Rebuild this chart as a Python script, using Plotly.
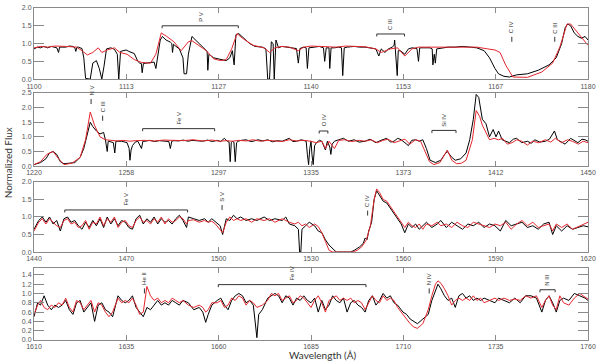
import plotly.graph_objects as go

# observed (black) and model (red) spectra, (wavelength, normalized flux)
p1_obs = [(1100.0,0.85),(1100.5,0.90),(1100.94,0.88),(1101.4,0.92),(1101.98,0.88),(1102.5,0.92),(1102.9,0.90),(1103.3,0.88),
    (1103.54,0.75),(1103.7,0.90),(1104.06,0.90),(1104.58,0.90),(1105.1,0.93),(1105.62,0.92),(1105.9,0.88),(1106.04,0.78),
    (1106.2,0.90),(1106.41,0.90),(1106.93,0.86),(1107.19,0.60),(1107.45,0.02),(1108.12,0.0),(1108.49,0.45),(1109.01,0.52),
    (1109.43,0.30),(1109.79,0.0),(1110.10,0.35),(1110.47,0.85),(1111.09,0.88),(1111.61,0.84),(1112.03,0.70),(1112.24,0.0),
    (1112.5,0.78),(1112.92,0.80),(1113.3,0.82),(1113.70,0.78),(1114.1,0.76),(1114.48,0.72),(1115.0,0.50),(1115.26,0.45),
    (1115.5,0.44),(1115.62,0.18),(1115.8,0.44),(1116.3,0.46),(1116.82,0.47),(1117.34,0.48),(1117.60,0.30),(1117.86,0.60),
    (1118.23,1.10),(1118.54,1.20),(1119.06,1.10),(1119.69,1.04),(1119.9,1.0),(1120.0,0.75),(1120.15,0.98),(1120.31,0.95),
    (1120.99,0.85),(1121.51,0.60),(1121.67,0.15),(1122.03,0.15),(1122.29,0.70),(1122.81,1.20),(1123.33,1.10),(1124.11,0.95),
    (1124.79,0.80),(1125.0,0.78),(1125.10,0.25),(1125.25,0.70),(1125.94,0.60),(1126.98,0.55),(1127.76,0.52),(1128.28,0.60),
    (1128.64,0.80),(1128.90,0.40),(1129.16,1.25),(1129.58,1.28),(1130.36,1.15),(1131.14,1.00),(1131.92,0.92),(1132.97,0.90),
    (1133.49,0.85),(1133.75,0.0),(1134.01,0.0),(1134.27,1.05),(1134.53,1.00),(1134.69,0.0),(1134.94,1.10),(1135.31,0.88),
    (1135.8,0.92),(1136.35,0.90),(1136.9,0.88),(1137.39,0.88),(1137.9,0.86),(1138.17,0.45),(1138.4,0.86),(1138.9,0.90),
    (1139.3,0.88),(1139.48,0.30),(1139.7,0.88),(1140.52,0.90),(1141.2,0.92),(1141.8,0.88),(1141.98,0.50),(1142.2,0.88),
    (1142.6,0.88),(1142.71,0.30),(1142.9,0.88),(1143.38,0.88),(1144.0,0.90),(1144.4,0.88),(1144.58,0.10),(1144.8,0.88),
    (1145.21,0.90),(1146.25,0.92),(1147.0,0.90),(1147.81,0.90),(1148.5,0.88),(1149.37,0.85),(1149.79,0.65),(1150.15,0.85),
    (1150.67,0.75),(1151.19,0.85),(1151.72,0.90),(1152.0,0.95),(1152.08,1.10),(1152.3,0.50),(1152.45,0.10),(1152.6,0.80),
    (1152.91,0.80),(1153.54,0.70),(1154.06,0.85),(1154.58,0.88),(1155.3,0.86),(1155.52,0.50),(1155.7,0.88),(1156.5,0.88),
    (1157.18,0.88),(1157.5,0.85),(1157.60,0.40),(1157.8,0.70),(1157.96,0.45),(1158.15,0.85),(1159.0,0.88),(1159.79,0.90),
    (1160.8,0.90),(1161.87,0.92),(1163.0,0.90),(1163.95,0.88),(1165.0,0.80),(1165.78,0.60),(1166.56,0.30),(1167.08,0.15),
    (1167.86,0.08),(1168.64,0.06),(1169.68,0.12),(1171.25,0.15),(1172.81,0.25),(1174.37,0.40),(1175.41,0.60),(1176.19,1.00),
    (1176.71,1.45),(1177.08,1.55),(1177.49,1.50),(1178.01,1.30),(1178.54,1.20),(1179.06,1.15),(1179.58,1.20),(1180.0,1.10)]
p1_mod = [(1100.0,0.88),(1101.0,0.92),(1101.98,0.90),(1103.0,0.93),(1104.58,0.92),(1106.15,0.90),(1106.93,0.80),(1107.71,0.68),
    (1108.49,0.75),(1109.27,0.88),(1109.79,0.75),(1110.57,0.82),(1111.61,0.88),(1112.40,0.75),(1113.44,0.70),(1114.48,0.55),
    (1115.52,0.47),(1116.82,0.45),(1117.60,0.70),(1118.38,1.30),(1119.17,1.20),(1120.21,1.05),(1121.25,0.80),(1122.29,1.05),
    (1122.81,1.08),(1123.85,0.95),(1124.89,0.80),(1125.94,0.57),(1126.98,0.52),(1127.76,0.55),(1128.54,0.85),(1129.32,1.28),
    (1130.10,1.15),(1131.66,0.95),(1133.23,0.88),(1134.01,0.75),(1134.79,0.88),(1135.8,0.92),(1136.87,0.90),(1138.17,0.80),
    (1138.96,0.90),(1140.0,0.93),(1141.04,0.92),(1142.3,0.90),(1143.64,0.90),(1145.0,0.93),(1146.25,0.93),(1147.8,0.91),
    (1149.37,0.85),(1150.15,0.75),(1151.45,0.85),(1152.5,0.88),(1153.54,0.65),(1154.58,0.85),(1155.5,0.90),(1156.66,0.90),
    (1158.0,0.92),(1159.5,0.90),(1161.87,0.92),(1163.95,0.90),(1165.52,0.85),(1166.56,0.82),(1167.3,0.75),(1168.1,0.40),
    (1169.15,0.06),(1171.25,0.05),(1173.33,0.20),(1174.89,0.45),(1175.93,0.90),(1176.97,1.55),(1177.49,1.55),(1178.54,1.30),
    (1180.0,0.95)]

p2_obs = [(1220.0,0.05),(1222.70,0.12),(1224.94,0.25),(1226.44,0.45),(1227.94,0.50),(1229.43,0.40),(1230.93,0.15),(1232.43,0.08),
    (1234.67,0.10),(1236.92,0.12),(1239.17,0.30),(1240.66,0.60),(1242.16,1.10),(1243.36,1.50),(1244.41,1.35),(1245.91,1.20),
    (1247.40,1.10),(1248.90,1.15),(1249.65,0.90),(1250.40,0.50),(1250.8,0.85),(1251.15,0.85),(1252.94,0.80),(1253.54,0.45),
    (1254.0,0.85),(1254.44,0.85),(1256.39,0.85),(1258.63,0.80),(1259.5,0.60),(1259.83,0.20),(1260.3,0.55),(1260.88,0.70),
    (1262.0,0.82),(1263.13,0.85),(1264.62,0.60),(1265.2,0.85),(1266.12,0.85),(1268.0,0.88),(1270.0,0.84),(1272.11,0.87),
    (1274.0,0.86),(1276.0,0.84),(1276.60,0.60),(1277.2,0.85),(1278.10,0.87),(1280.0,0.86),(1282.0,0.89),(1284.0,0.85),
    (1285.59,0.88),(1288.0,0.86),(1290.08,0.85),(1292.0,0.89),(1294.0,0.84),(1296.07,0.88),(1297.5,0.84),(1299.06,0.95),
    (1300.2,0.85),(1301.0,0.82),(1301.46,0.15),(1301.9,0.80),(1302.36,0.85),(1303.0,0.82),(1303.55,0.15),(1304.1,0.80),
    (1304.75,0.85),(1306.0,0.88),(1308.05,0.90),(1310.0,0.84),(1311.04,0.85),(1313.0,0.90),(1315.0,0.86),(1317.03,0.90),
    (1319.0,0.83),(1321.0,0.87),(1323.02,0.85),(1324.5,0.90),(1326.02,0.95),(1327.5,0.84),(1329.01,0.85),(1331.0,0.90),
    (1333.0,0.85),(1333.50,0.40),(1334.0,0.05),(1334.5,0.60),(1335.0,0.85),(1335.4,0.40),(1335.9,0.05),(1336.5,0.70),
    (1337.25,0.80),(1338.5,0.88),(1339.49,0.85),(1340.99,0.55),(1341.8,0.85),(1342.8,0.65),(1343.24,0.40),(1343.8,0.75),
    (1344.73,0.85),(1346.5,0.90),(1348.48,0.95),(1350.5,0.85),(1352.97,0.90),(1355.0,0.82),(1357.46,0.85),(1359.5,0.92),
    (1361.95,0.80),(1364.0,0.88),(1366.45,0.95),(1368.0,0.82),(1369.44,0.85),(1371.0,0.95),(1372.43,0.90),(1374.0,0.80),
    (1375.43,0.70),(1376.8,0.88),(1378.42,0.90),(1380.0,0.85),(1381.42,0.90),(1382.92,0.60),(1384.44,0.20),(1386.66,0.12),
    (1388.90,0.20),(1390.5,0.40),(1391.60,0.50),(1393.45,0.30),(1394.90,0.20),(1397.14,0.25),(1399.39,0.45),(1400.89,0.90),
    (1402.38,1.60),(1403.58,2.45),(1404.63,2.35),(1406.13,1.60),(1407.63,1.45),(1409.12,1.00),(1410.62,1.25),(1411.8,1.00),
    (1412.87,1.20),(1414.36,0.90),(1416.0,0.85),(1417.36,0.80),(1419.0,0.92),(1420.35,0.95),(1422.5,0.80),(1424.84,0.85),
    (1426.5,0.78),(1427.84,0.90),(1430.0,0.82),(1432.33,0.85),(1434.0,0.92),(1436.07,1.20),(1437.3,0.90),(1438.32,0.85),
    (1440.5,0.75),(1442.81,0.95),(1444.5,0.85),(1445.80,0.80),(1447.5,0.92),(1448.80,0.90),(1450.0,0.85)]
p2_mod = [(1220.0,0.05),(1222.70,0.15),(1225.3,0.40),(1227.94,0.50),(1230.2,0.25),(1232.43,0.05),(1235.8,0.10),(1239.17,0.30),
    (1241.4,0.90),(1243.36,1.85),(1245.1,1.40),(1247.40,1.00),(1249.65,0.90),(1252.0,0.88),(1254.44,0.86),(1257.0,0.88),
    (1259.83,0.85),(1262.0,0.87),(1266.12,0.88),(1270.0,0.86),(1274.0,0.89),(1278.10,0.88),(1282.0,0.87),(1286.0,0.90),
    (1290.0,0.86),(1294.0,0.89),(1297.0,0.85),(1300.0,0.87),(1302.36,0.85),(1305.0,0.88),(1308.05,0.86),(1311.04,0.90),
    (1314.0,0.85),(1317.03,0.88),(1320.0,0.86),(1323.02,0.84),(1326.0,0.90),(1329.01,0.86),(1332.0,0.88),(1335.0,0.85),
    (1337.0,0.80),(1339.5,0.85),(1340.99,0.60),(1342.5,0.85),(1344.73,0.60),(1346.5,0.88),(1349.0,0.90),(1352.0,0.84),
    (1355.0,0.88),(1357.5,0.85),(1360.0,0.90),(1362.5,0.80),(1365.0,0.88),(1367.0,0.92),(1369.5,0.80),(1372.0,0.88),
    (1374.0,0.92),(1376.0,0.75),(1378.42,0.90),(1380.5,0.85),(1382.5,0.50),(1384.2,0.15),(1386.0,0.05),(1388.5,0.12),
    (1391.60,0.55),(1393.45,0.20),(1395.5,0.08),(1397.5,0.10),(1399.39,0.20),(1402.0,0.90),(1403.58,1.90),(1405.0,1.70),
    (1406.13,1.40),(1408.0,1.10),(1409.12,0.90),(1411.0,0.95),(1412.87,0.90),(1414.5,0.95),(1416.5,0.75),(1418.5,0.80),
    (1420.35,0.90),(1422.5,0.85),(1424.84,0.72),(1427.0,0.85),(1429.5,0.80),(1432.33,0.90),(1434.5,0.82),(1436.5,0.95),
    (1439.0,0.80),(1441.5,0.90),(1443.5,0.85),(1446.0,0.75),(1448.0,0.85),(1450.0,0.80)]

p3_obs = [(1440.0,0.65),(1441.52,0.90),(1442.70,1.00),(1443.87,0.85),(1445.04,1.00),(1446.21,0.80),(1447.38,0.90),(1448.55,0.60),
    (1449.73,0.95),(1450.90,1.00),(1452.07,0.85),(1453.24,0.90),(1454.41,0.75),(1455.59,0.65),(1456.76,0.85),(1457.93,0.70),
    (1459.10,0.90),(1460.27,0.75),(1461.45,0.95),(1462.62,0.70),(1463.79,1.00),(1464.96,0.80),(1466.13,0.95),(1467.31,0.75),
    (1468.48,0.90),(1469.65,0.85),(1470.82,0.70),(1471.99,0.65),(1473.17,0.95),(1474.34,1.05),(1475.51,0.80),(1476.68,0.95),
    (1477.85,0.85),(1479.02,1.00),(1480.20,0.80),(1481.37,0.95),(1482.54,0.85),(1483.71,0.90),(1484.88,0.80),(1486.06,0.95),
    (1487.23,1.05),(1488.40,0.90),(1489.57,0.70),(1490.16,1.00),(1491.91,0.95),(1493.67,0.90),(1495.43,0.95),(1496.60,0.85),
    (1497.77,0.95),(1498.95,0.85),(1500.47,0.75),(1501.29,0.50),(1502.46,0.95),(1503.63,0.90),(1504.81,1.05),(1505.98,0.95),
    (1507.15,1.00),(1508.91,0.90),(1510.67,0.95),(1512.42,0.90),(1514.77,1.00),(1516.53,0.90),(1518.28,0.95),(1520.63,0.90),
    (1521.80,1.00),(1522.97,0.80),(1524.73,0.75),(1525.90,0.65),(1526.3,0.0),(1526.7,0.0),(1527.07,0.65),(1528.24,0.75),
    (1529.42,0.85),(1531.17,0.75),(1532.35,0.60),(1533.52,0.55),(1534.69,0.35),(1535.86,0.20),(1537.03,0.10),(1538.21,0.0),
    (1540.55,0.0),(1542.89,0.0),(1544.07,0.05),(1545.82,0.15),(1547.0,0.25),(1547.58,0.40),(1548.2,0.35),(1548.75,0.60),
    (1549.69,0.85),(1550.51,1.50),(1551.33,1.75),(1552.27,1.60),(1553.44,1.45),(1554.61,1.40),(1555.79,1.25),(1556.96,1.10),
    (1558.13,0.95),(1559.30,0.80),(1560.47,0.55),(1561.64,0.80),(1562.81,0.70),(1563.99,0.80),(1565.16,0.65),(1566.33,0.75),
    (1567.50,0.85),(1569.26,0.70),(1571.02,0.80),(1572.19,0.90),(1573.95,0.70),(1575.71,0.85),(1577.46,0.75),(1579.22,0.65),
    (1580.98,0.80),(1582.73,0.75),(1584.49,0.85),(1586.25,0.70),(1588.01,0.80),(1589.77,0.75),(1591.52,0.60),(1593.28,0.90),
    (1595.04,0.75),(1596.80,0.80),(1598.55,0.85),(1600.31,0.70),(1602.07,0.75),(1603.83,0.65),(1605.59,0.80),(1607.34,0.85),
    (1608.52,0.50),(1609.69,0.75),(1611.45,0.60),(1613.21,0.75),(1614.96,0.65),(1616.72,0.70),(1618.48,0.75),(1620.0,0.72)]
p3_mod = [(1440.0,0.60),(1441.52,0.85),(1442.70,0.95),(1443.87,0.80),(1445.04,0.95),(1446.21,0.85),(1447.38,0.75),(1448.55,0.70),
    (1449.73,0.90),(1450.90,0.95),(1452.07,0.80),(1453.24,0.85),(1454.41,0.70),(1455.59,0.75),(1456.76,0.90),(1457.93,0.65),
    (1459.10,0.85),(1460.27,0.80),(1461.45,1.00),(1462.62,0.75),(1463.79,0.95),(1464.96,0.85),(1466.13,1.00),(1467.31,0.70),
    (1468.48,0.85),(1469.65,0.90),(1470.82,0.75),(1471.99,0.70),(1473.17,0.90),(1474.34,1.00),(1475.51,0.85),(1476.68,0.90),
    (1477.85,0.80),(1479.02,0.95),(1480.20,0.85),(1481.37,1.00),(1482.54,0.80),(1483.71,0.95),(1484.88,0.85),(1486.06,0.90),
    (1487.23,1.00),(1488.40,0.95),(1489.57,0.80),(1490.16,0.90),(1491.91,0.92),(1493.67,0.85),(1495.43,0.90),(1496.60,0.85),
    (1497.77,0.88),(1498.95,0.80),(1500.47,0.65),(1501.29,0.55),(1502.46,0.85),(1503.63,1.00),(1504.81,0.90),(1505.98,0.95),
    (1507.15,0.90),(1508.91,0.95),(1510.67,0.85),(1512.42,0.95),(1514.77,0.90),(1516.53,0.95),(1518.28,0.85),(1520.63,0.95),
    (1521.80,0.90),(1522.97,0.85),(1524.73,0.80),(1525.90,0.85),(1527.07,0.75),(1528.24,0.80),(1529.42,0.70),(1531.17,0.80),
    (1532.35,0.73),(1533.52,0.55),(1534.69,0.30),(1535.86,0.05),(1537.03,0.0),(1540.55,0.0),(1543.5,0.0),(1545.0,0.05),
    (1546.5,0.15),(1548.0,0.35),(1549.3,0.75),(1550.51,1.50),(1551.33,1.80),(1552.27,1.70),(1553.44,1.50),(1554.61,1.45),
    (1555.79,1.30),(1556.96,1.15),(1558.13,1.00),(1559.30,0.85),(1560.47,0.70),(1561.64,0.85),(1562.81,0.75),(1563.99,0.70),
    (1565.16,0.80),(1566.33,0.65),(1567.50,0.80),(1569.26,0.75),(1571.02,0.85),(1572.19,0.75),(1573.95,0.80),(1575.71,0.70),
    (1577.46,0.85),(1579.22,0.75),(1580.98,0.70),(1582.73,0.85),(1584.49,0.80),(1586.25,0.75),(1588.01,0.70),(1589.77,0.80),
    (1591.52,0.75),(1593.28,0.85),(1595.04,0.65),(1596.80,0.80),(1598.55,0.90),(1600.31,0.75),(1602.07,0.85),(1603.83,0.70),
    (1605.59,0.75),(1607.34,0.80),(1608.52,0.60),(1609.69,0.80),(1611.45,0.70),(1613.21,0.80),(1614.96,0.65),(1616.72,0.72),
    (1618.48,0.80),(1620.0,0.85)]

p4_obs = [(1610.0,0.50),(1610.98,0.80),(1611.76,0.75),(1612.73,0.95),(1613.71,0.75),(1614.69,0.65),(1615.66,0.75),(1616.64,0.70),
    (1617.62,0.75),(1618.59,0.85),(1619.57,0.65),(1620.55,0.55),(1621.52,0.80),(1622.50,0.85),(1623.48,0.60),(1624.45,0.70),
    (1625.43,0.80),(1626.41,0.40),(1627.38,0.75),(1628.36,0.80),(1629.34,0.65),(1630.31,0.60),(1631.29,0.50),(1632.75,0.95),
    (1633.73,0.85),(1634.71,0.80),(1635.68,0.85),(1636.66,0.95),(1637.64,0.70),(1638.61,0.60),(1639.59,0.50),(1640.57,0.70),
    (1641.54,0.65),(1642.52,0.75),(1643.50,0.85),(1644.47,0.75),(1645.45,0.80),(1646.43,0.75),(1647.40,0.85),(1648.38,0.80),
    (1649.36,0.75),(1650.33,0.85),(1651.80,0.80),(1653.26,0.65),(1654.73,0.70),(1655.70,0.60),(1656.49,0.38),(1657.17,0.55),
    (1658.15,0.75),(1659.61,0.85),(1660.59,0.90),(1661.56,0.75),(1662.54,0.65),(1663.52,0.85),(1664.49,0.95),(1665.47,1.00),
    (1666.45,0.95),(1667.42,0.80),(1668.40,0.85),(1669.38,0.75),(1669.9,0.40),(1670.35,0.05),(1670.84,0.55),(1671.82,0.65),
    (1673.28,0.90),(1674.26,0.95),(1675.24,1.00),(1676.21,0.95),(1677.19,0.80),(1678.17,0.95),(1679.14,0.90),(1680.12,0.75),
    (1681.10,0.90),(1682.07,0.85),(1683.05,0.95),(1684.03,0.85),(1685.00,0.80),(1685.98,0.90),(1686.96,0.60),(1687.93,0.85),
    (1688.91,0.65),(1689.89,0.75),(1690.86,0.95),(1691.84,0.85),(1692.82,0.80),(1693.79,0.90),(1694.77,0.60),(1695.75,0.80),
    (1696.72,0.85),(1697.70,0.75),(1698.68,0.70),(1699.65,0.60),(1700.63,0.85),(1701.61,0.95),(1702.58,0.75),(1703.56,0.85),
    (1704.53,1.00),(1705.51,0.90),(1706.49,0.95),(1707.46,0.80),(1708.44,0.75),(1709.90,0.60),(1710.88,0.55),(1711.86,0.45),
    (1712.83,0.40),(1713.81,0.35),(1715.27,0.45),(1716.74,0.55),(1717.72,0.85),(1718.69,1.05),(1719.38,1.20),(1720.16,1.10),
    (1721.13,0.95),(1722.11,0.85),(1723.09,0.90),(1724.06,0.70),(1725.04,0.95),(1726.02,1.00),(1726.99,0.90),(1727.97,0.95),
    (1728.95,0.85),(1729.92,0.90),(1730.90,0.85),(1731.88,0.90),(1733.34,0.85),(1734.81,0.80),(1735.79,0.90),(1737.25,0.85),
    (1738.72,0.80),(1740.18,0.90),(1741.64,0.80),(1743.11,0.95),(1744.57,0.95),(1746.04,0.90),(1747.50,0.60),(1748.48,0.85),
    (1749.45,0.95),(1750.43,0.80),(1751.41,0.60),(1752.38,0.85),(1753.36,0.90),(1754.83,0.85),(1756.29,1.00),(1757.76,0.95),
    (1759.22,0.90),(1760.0,0.85)]
p4_mod = [(1610.0,0.55),(1610.98,0.75),(1611.76,0.85),(1612.73,0.70),(1613.71,0.65),(1614.69,0.75),(1615.66,0.70),(1616.64,0.80),
    (1617.62,0.75),(1618.59,0.90),(1619.57,0.70),(1620.55,0.60),(1621.52,0.85),(1622.50,0.80),(1623.48,0.65),(1624.45,0.75),
    (1625.43,0.85),(1626.41,0.60),(1627.38,0.80),(1628.36,0.75),(1629.34,0.60),(1630.31,0.50),(1631.29,0.60),(1632.75,0.90),
    (1633.73,0.80),(1634.71,0.85),(1635.68,0.80),(1636.66,0.90),(1637.64,0.75),(1638.61,0.55),(1639.59,0.60),(1640.57,1.15),
    (1641.54,0.95),(1642.52,0.85),(1643.50,0.90),(1644.47,0.80),(1645.45,0.85),(1646.43,0.80),(1647.40,0.90),(1648.38,0.85),
    (1649.36,0.80),(1650.33,0.85),(1651.80,0.75),(1653.26,0.70),(1654.73,0.75),(1655.70,0.70),(1656.49,0.60),(1657.17,0.65),
    (1658.15,0.80),(1659.61,0.80),(1660.59,0.85),(1661.56,0.70),(1662.54,0.75),(1663.52,0.90),(1664.49,0.85),(1665.47,0.95),
    (1666.45,0.90),(1667.42,0.75),(1668.40,0.85),(1669.38,0.80),(1670.35,0.70),(1671.82,0.75),(1673.28,0.85),(1674.26,1.00),
    (1675.24,0.95),(1676.21,1.00),(1677.19,0.85),(1678.17,0.90),(1679.14,0.95),(1680.12,0.80),(1681.10,0.85),(1682.07,0.95),
    (1683.05,0.90),(1684.03,0.80),(1685.00,0.70),(1685.98,0.85),(1686.96,0.95),(1687.93,0.80),(1688.91,0.60),(1689.89,0.85),
    (1690.86,0.90),(1691.84,0.95),(1692.82,0.85),(1693.79,0.90),(1694.77,0.85),(1695.75,0.90),(1696.72,0.80),(1697.70,0.85),
    (1698.68,0.80),(1699.65,0.65),(1700.63,0.80),(1701.61,0.95),(1702.58,0.85),(1703.56,0.80),(1704.53,0.95),(1705.51,0.85),
    (1706.49,0.90),(1707.46,0.85),(1708.44,0.70),(1709.90,0.55),(1710.88,0.45),(1711.86,0.35),(1712.83,0.28),(1713.81,0.25),
    (1715.27,0.35),(1716.74,0.65),(1717.72,0.95),(1718.69,1.20),(1719.38,1.27),(1720.16,1.22),(1721.13,1.10),(1722.11,0.95),
    (1723.09,0.75),(1724.06,0.85),(1725.04,0.90),(1726.02,0.85),(1726.99,0.90),(1727.97,0.85),(1728.95,0.95),(1729.92,0.85),
    (1730.90,0.90),(1731.88,0.80),(1733.34,0.85),(1734.81,0.90),(1735.79,0.85),(1737.25,0.90),(1738.72,0.85),(1740.18,0.88),
    (1741.64,0.85),(1743.11,0.95),(1744.57,0.90),(1746.04,0.95),(1747.50,0.70),(1748.48,0.85),(1749.45,0.95),(1750.43,0.75),
    (1751.41,0.65),(1752.38,0.95),(1753.36,0.80),(1754.83,0.75),(1756.29,0.90),(1757.76,1.00),(1759.22,0.92),(1760.0,0.88)]

# axis ranges and tick labels
x_ranges = [(1100, 1180), (1220, 1450), (1440, 1620), (1610, 1760)]
x_ticklabels = [["1100", "1113", "1127", "1140", "1153", "1167", "1180"],
                ["1220", "1258", "1297", "1335", "1373", "1412", "1450"],
                ["1440", "1470", "1500", "1530", "1560", "1590", "1620"],
                ["1610", "1635", "1660", "1685", "1710", "1735", "1760"]]
y_ranges = [(0, 2.0), (0, 2.5), (0, 2.0), (0, 1.55)]
y_steps = [0.5, 0.5, 0.5, 0.2]

# line identifications: (label, start, end, level)
p1_lines = [("P V", 1118.5, 1129.5, 1.5), ("C III", 1149.5, 1153.5, 1.27), ("C IV", 1169.0, 1169.0, 1.05), ("C III", 1175.2, 1175.2, 1.05)]
p2_lines = [("N V", 1243.7, 1243.7, 2.12), ("C III", 1248.5, 1248.5, 1.55), ("Fe V", 1265.1, 1295.0, 1.28),
            ("O IV", 1338.4, 1342.0, 1.2), ("Si IV", 1385.2, 1395.2, 1.22)]
p3_lines = [("Fe V", 1450.0, 1489.9, 1.2), ("S V", 1501.1, 1501.1, 1.2), ("C IV", 1548.4, 1548.4, 1.04)]
p4_lines = [("He II", 1639.9, 1639.9, 1.0), ("Fe IV", 1659.9, 1699.9, 1.19), ("N IV", 1717.0, 1717.0, 1.0), ("N III", 1747.0, 1751.1, 1.08)]

panels = [(p1_obs, p1_mod, p1_lines), (p2_obs, p2_mod, p2_lines), (p3_obs, p3_mod, p3_lines), (p4_obs, p4_mod, p4_lines)]

# panel boxes in pixels (top, bottom) of a 336 px tall plot area
boxes = [(4, 76), (90, 164), (180, 251), (267, 340)]
H = 336.0

fig = go.Figure()
axis_grey = "#8a8a8a"
tick_font = dict(family="Liberation Sans, Arial", size=7, color="#555555")

for i, (obs, mod, lines) in enumerate(panels):
    n = "" if i == 0 else str(i + 1)
    xa, ya = "x" + n, "y" + n
    ow, of = zip(*obs)
    mw, mf = zip(*mod)
    fig.add_trace(go.Scatter(x=ow, y=of, mode="lines", line=dict(color="black", width=1), xaxis=xa, yaxis=ya,
                             showlegend=False, hoverinfo="skip"))
    fig.add_trace(go.Scatter(x=mw, y=mf, mode="lines", line=dict(color="#e3262d", width=1), xaxis=xa, yaxis=ya,
                             showlegend=False, hoverinfo="skip"))

    x0, x1 = x_ranges[i]
    y0, y1 = y_ranges[i]
    nt = len(x_ticklabels[i])
    tickvals = [round(x0 + (x1 - x0) * k / (nt - 1), 6) for k in range(nt)]
    top, bot = boxes[i]
    fig.layout["xaxis" + n] = dict(range=[x0, x1], domain=[0, 1], anchor=ya, tickvals=tickvals, ticktext=x_ticklabels[i],
                                   ticks="inside", ticklen=5, tickcolor=axis_grey, showline=True, linecolor=axis_grey,
                                   linewidth=1, mirror="ticks", showgrid=False, zeroline=False, tickfont=tick_font,
                                   ticklabeloverflow="allow")
    yt = []
    v = 0.0
    while v <= y1 + 1e-9:
        yt.append(round(v, 2))
        v += y_steps[i]
    fig.layout["yaxis" + n] = dict(range=[y0, y1], domain=[(340 - bot) / H, (340 - top) / H], anchor=xa, tickvals=yt,
                                   tickformat=".1f", ticks="inside", ticklen=10, tickcolor=axis_grey, showline=True,
                                   linecolor=axis_grey, linewidth=1, mirror="ticks", showgrid=False, zeroline=False,
                                   tickfont=tick_font)

    tl = 0.07 * (y1 - y0)
    hook = 0.035 * (y1 - y0)
    for label, a, b, lev in lines:
        if a == b:
            fig.add_shape(type="line", xref=xa, yref=ya, x0=a, x1=a, y0=lev, y1=lev + tl, line=dict(color="#333333", width=1))
            ty = lev + tl + 0.02 * (y1 - y0)
        else:
            fig.add_shape(type="line", xref=xa, yref=ya, x0=a, x1=b, y0=lev, y1=lev, line=dict(color="#333333", width=1))
            fig.add_shape(type="line", xref=xa, yref=ya, x0=a, x1=a, y0=lev - hook, y1=lev, line=dict(color="#333333", width=1))
            fig.add_shape(type="line", xref=xa, yref=ya, x0=b, x1=b, y0=lev - hook, y1=lev, line=dict(color="#333333", width=1))
            ty = lev + 0.03 * (y1 - y0)
        fig.add_annotation(x=(a + b) / 2, y=ty, xref=xa, yref=ya, text=label, textangle=-90, showarrow=False,
                           yanchor="bottom", xanchor="center", font=dict(family="Liberation Sans, Arial", size=6, color="#333333"))

fig.add_annotation(x=(326 - 34) / 559, y=-0.045, xref="paper", yref="paper", text="Wavelength (Å)", showarrow=False,
                   font=dict(family="Lato", size=10, color="#333333"), yanchor="middle")
fig.add_annotation(x=(8 - 34) / 559, y=0.533, xref="paper", yref="paper", text="Normalized Flux", showarrow=False,
                   textangle=-90, font=dict(family="Lato", size=10, color="#333333"), xanchor="center")

fig.update_layout(width=600, height=364, margin=dict(l=34, r=7, t=4, b=24), plot_bgcolor="white", paper_bgcolor="white")

# page body has a default 8px margin; remove it so the figure sits at the window origin
fig.write_html("out.html", config={"displayModeBar": False},
               post_script="document.body.style.margin='0px';")
